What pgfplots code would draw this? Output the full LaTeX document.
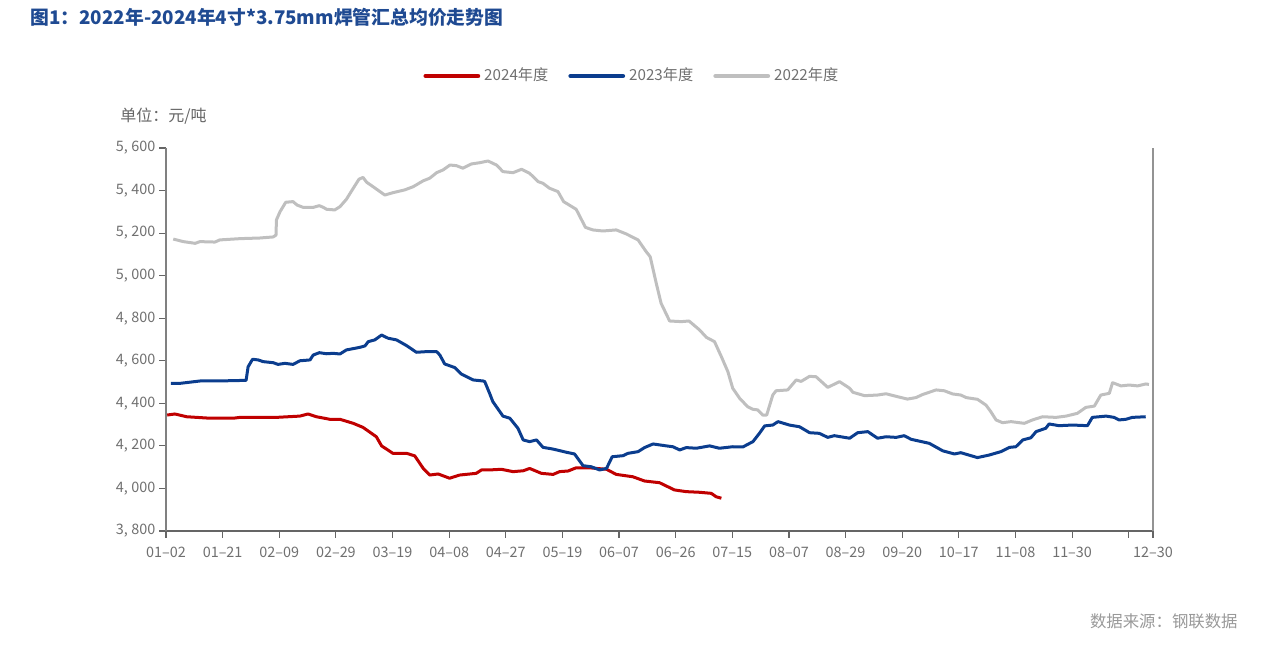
\documentclass[border=0pt]{standalone}
\usepackage{fontspec}
\setmainfont{Noto Sans CJK SC}
\usepackage{pgfplots}
\pgfplotsset{compat=1.18}
\definecolor{c24}{HTML}{C00000}
\definecolor{c23}{HTML}{0B3D8E}
\definecolor{c22}{HTML}{BFBFBF}
\definecolor{ttl}{HTML}{1F4A92}
\definecolor{txt}{HTML}{707070}
\definecolor{axl}{HTML}{808080}

\begin{document}
\begin{tikzpicture}
% page frame: 1 px of the reference = 0.5pt, axis origin at px (166,531)
\path[use as bounding box] (-83pt,-56.5pt) rectangle (549.5pt,265.5pt);

\begin{axis}[
  name=ax,
  at={(0,0)}, anchor=south west,
  scale only axis,
  width=493.5pt, height=191.5pt,
  xmin=0, xmax=244, ymin=3800, ymax=5600,
  axis x line*=bottom, axis y line*=left,
  x axis line style={draw=txt!90!black, line width=0.7pt, -},
  y axis line style={draw=axl, line width=0.6pt, -},
  tick align=outside,
  major tick length=3.3pt,
  xtick={0,14,28,42,56,70,84,98,112,126,140,154,168,182,196,210,224,238,244},
  xticklabels={01–02,01–21,02–09,02–29,03–19,04–08,04–27,05–19,06–07,06–26,07–15,08–07,08–29,09–20,10–17,11–08,11–30,,12–30},
  ytick={3800,4000,4200,4400,4600,4800,5000,5200,5400,5600},
  yticklabels={{3,\hspace{0.25em}800},{4,\hspace{0.25em}000},{4,\hspace{0.25em}200},{4,\hspace{0.25em}400},{4,\hspace{0.25em}600},{4,\hspace{0.25em}800},{5,\hspace{0.25em}000},{5,\hspace{0.25em}200},{5,\hspace{0.25em}400},{5,\hspace{0.25em}600}},
  x tick style={draw=txt!90!black, line width=0.6pt},
  y tick style={draw=txt!90!black, line width=0.6pt},
  xticklabel style={font=\fontsize{7.2}{8}\selectfont, text=txt, yshift=-1pt},
  yticklabel style={font=\fontsize{7.2}{8}\selectfont, text=txt, xshift=1.5pt},
  clip=false,
  legend style={at={(0.473,1.188)}, anchor=center, draw=none, fill=none,
    legend columns=-1, font=\fontsize{7.6}{8}\selectfont, text=txt,
    /tikz/every even column/.append style={column sep=8pt}},
  legend image code/.code={\draw[#1, line width=2.4pt, line cap=round] (0pt,0pt) -- (26pt,0pt);},
]
\addlegendimage{c24}\addlegendentry{2024年度}
\addlegendimage{c23}\addlegendentry{2023年度}
\addlegendimage{c22}\addlegendentry{2022年度}

% 2022
\addplot[forget plot, c22, line width=1.5pt, line join=round] coordinates {
(1.8,5172) (4.3,5160) (7.2,5152) (8.4,5160) (12.1,5158) (13.3,5168) (18.3,5174)
(23.2,5177) (26.5,5182) (27.2,5191) (27.3,5262) (28.2,5301) (29.6,5345) (31.4,5348)
(32.4,5332) (33.9,5321) (36.4,5321) (37.9,5329) (38.9,5321) (39.7,5312) (41.7,5309)
(43.0,5324) (44.6,5359) (46.3,5411) (47.7,5453) (48.7,5462) (49.6,5439) (51.2,5418)
(52.9,5395) (54.1,5379) (56.1,5390) (59.0,5403) (61.1,5418) (63.6,5446) (65.2,5458)
(66.9,5484) (68.5,5497) (70.2,5520) (71.8,5517) (73.4,5505) (75.5,5525) (77.6,5531)
(79.6,5539) (81.7,5520) (83.3,5489) (85.8,5484) (87.9,5500) (89.9,5481) (92.0,5442)
(93.2,5434) (94.8,5411) (96.9,5395) (98.3,5348) (101.4,5312) (103.7,5227) (105.5,5215)
(108.0,5210) (111.3,5215) (113.8,5196) (116.7,5168) (118.7,5113) (119.7,5089)
(121.2,4964) (122.4,4870) (124.5,4787) (127.4,4784) (129.3,4787) (131.9,4745)
(133.6,4710) (135.6,4690) (137.3,4619) (138.9,4549) (140.1,4471) (141.8,4424)
(143.8,4384) (145.1,4372) (146.3,4369) (147.5,4345) (148.5,4345) (150.0,4439)
(150.8,4459) (153.7,4463) (155.8,4510) (157.0,4503) (159.1,4527) (160.7,4525)
(163.6,4475) (166.5,4502) (169.0,4471) (169.8,4452) (172.7,4436) (175.9,4439)
(178.0,4445) (180.9,4431) (183.3,4420) (185.4,4427) (187.1,4442) (190.4,4463)
(192.4,4459) (194.5,4444) (196.5,4439) (197.8,4427) (200.6,4419) (202.7,4392)
(203.9,4361) (205.2,4322) (206.8,4309) (208.9,4314) (212.2,4306) (214.2,4322)
(216.7,4337) (220.0,4334) (222.5,4340) (225.3,4353) (227.4,4381) (229.5,4387)
(231.1,4439) (233.2,4447) (234.0,4497) (236.1,4482) (238.1,4486) (240.2,4482)
(242.2,4491) (243.0,4489)
};

% 2024
\addplot[forget plot, c24, line width=1.5pt, line join=round] coordinates {
(0.3,4345) (2.2,4350) (5.1,4337) (10.9,4330) (16.6,4330) (18.3,4334) (27.3,4334)
(33.1,4340) (35.1,4350) (37.2,4337) (40.5,4325) (43.0,4325) (46.3,4306) (48.7,4287)
(52.0,4243) (53.3,4200) (56.1,4165) (59.5,4165) (61.5,4153) (63.6,4094) (65.2,4063)
(67.3,4068) (70.1,4048) (72.6,4063) (76.7,4071) (78.0,4087) (80.0,4087) (82.9,4090)
(85.8,4079) (88.3,4083) (89.9,4094) (92.8,4071) (95.7,4066) (97.3,4079) (99.4,4082)
(101.4,4097) (104.7,4097) (108.9,4090) (111.3,4066) (115.4,4055) (118.3,4035)
(122.0,4027) (125.7,3993) (128.6,3985) (131.9,3982) (134.8,3977) (136.0,3961)
(137.3,3954)
};

% 2023
\addplot[forget plot, c23, line width=1.5pt, line join=round] coordinates {
(1.2,4494) (3.5,4494) (8.4,4505) (15.0,4506) (19.8,4508) (20.3,4572) (21.4,4607)
(22.8,4604) (24.0,4596) (26.5,4591) (27.7,4583) (29.4,4588) (31.4,4583) (33.1,4600)
(35.6,4604) (36.4,4627) (37.9,4638) (39.7,4633) (41.3,4635) (43.0,4632) (44.6,4651)
(47.9,4663) (49.2,4670) (50.0,4690) (51.6,4698) (53.3,4721) (54.9,4706) (57.0,4698)
(59.5,4671) (61.9,4640) (64.4,4643) (66.9,4643) (67.7,4627) (68.9,4585) (71.4,4568)
(73.0,4538) (75.9,4510) (78.4,4505) (78.8,4502) (80.0,4447) (80.8,4408) (83.3,4340)
(85.0,4330) (87.0,4283) (88.3,4228) (89.9,4220) (91.6,4228) (93.2,4193) (95.7,4185)
(99.0,4170) (101.0,4162) (103.1,4107) (105.1,4102) (107.2,4087) (108.9,4094)
(110.3,4149) (113.0,4154) (114.2,4165) (116.7,4173) (118.3,4192) (120.4,4209)
(123.7,4200) (125.3,4196) (127.0,4181) (128.6,4192) (131.1,4189) (134.4,4200)
(136.8,4189) (140.1,4196) (142.6,4195) (145.1,4220) (146.7,4259) (148.0,4294)
(150.0,4298) (151.3,4314) (154.1,4298) (156.6,4290) (159.1,4262) (161.5,4259)
(163.6,4240) (165.2,4248) (169.0,4236) (171.0,4262) (173.5,4267) (175.9,4236)
(178.0,4243) (180.5,4240) (182.5,4248) (184.2,4231) (188.7,4212) (192.0,4177)
(194.9,4162) (196.5,4168) (200.6,4145) (203.5,4157) (206.4,4173) (208.5,4193)
(210.1,4196) (211.8,4228) (213.8,4238) (215.1,4267) (217.5,4283) (218.3,4303)
(220.8,4295) (224.1,4298) (227.8,4295) (229.0,4334) (232.4,4340) (234.4,4334)
(235.6,4322) (237.3,4325) (238.9,4334) (242.2,4337)
};

\draw[draw=axl!85, line width=0.7pt] (rel axis cs:1,0) -- (rel axis cs:1,1);
\end{axis}

\node[anchor=west, inner sep=0pt, text=ttl, font=\bfseries\fontsize{9.4}{10}\selectfont] at (-68pt,257pt) {图1：2022年-2024年4寸*3.75mm焊管汇总均价走势图};
\node[anchor=west, inner sep=0pt, text=txt!90!black, font=\fontsize{8}{9}\selectfont] at (-23pt,207.5pt) {单位：元/吨};
\node[anchor=east, inner sep=0pt, text=gray!80, font=\fontsize{8.2}{9}\selectfont] at (536pt,-45pt) {数据来源：钢联数据};
\end{tikzpicture}
\end{document}
